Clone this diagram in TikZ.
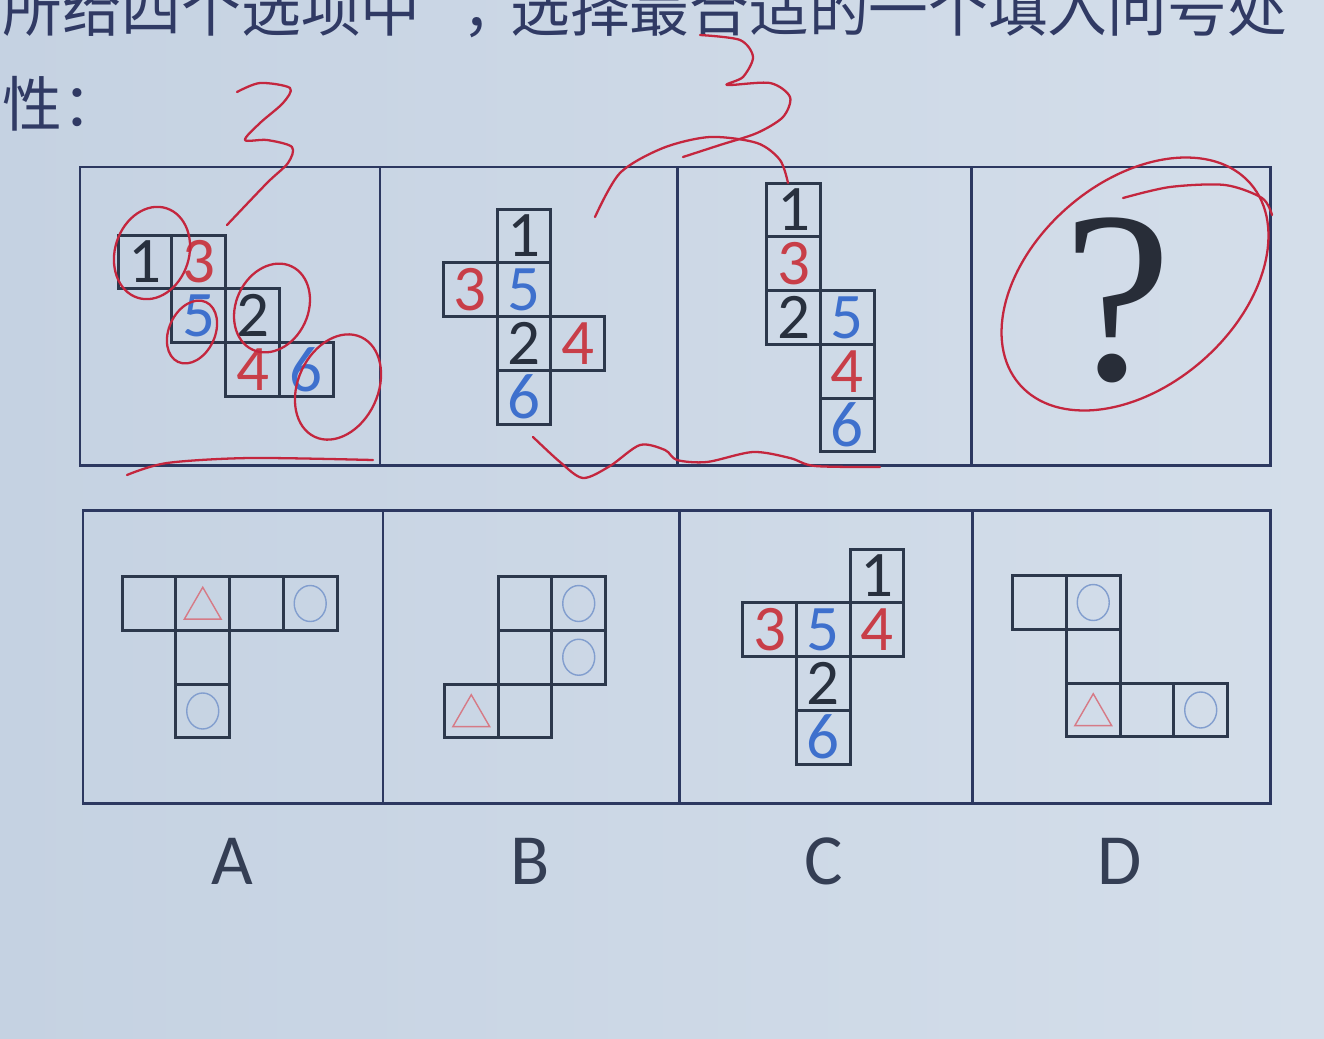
\documentclass[tikz,border=0pt]{standalone}
\usepackage{fontspec}
\usepackage{tikz}
\usetikzlibrary{positioning}
\usetikzlibrary{shapes.geometric}
\newfontfamily\cjkfont{Noto Sans CJK SC}
\newfontfamily\numfont{Carlito}
\newfontfamily\qfont{Liberation Serif}
\definecolor{bgl}{RGB}{197,210,226}
\definecolor{bgr}{RGB}{212,222,234}
\definecolor{framec}{RGB}{44,56,96}
\definecolor{boxc}{RGB}{44,56,76}
\definecolor{txtc}{RGB}{48,58,100}
\definecolor{numdk}{RGB}{40,48,62}
\definecolor{numrd}{RGB}{200,62,72}
\definecolor{numbl}{RGB}{62,112,205}
\definecolor{ringc}{RGB}{130,158,206}
\definecolor{tric}{RGB}{214,122,134}
\definecolor{inkc}{RGB}{196,38,62}
\definecolor{qc}{RGB}{40,45,56}
\definecolor{lblc}{RGB}{52,62,84}

\begin{document}
\begin{tikzpicture}[x=0.02cm,y=-0.02cm,node distance=0pt,
  head/.style={anchor=base west,inner sep=0pt,text=txtc,font=\cjkfont\fontsize{34}{34}\selectfont},
  sq/.style={draw=boxc,line width=1.7pt,minimum size=1.075cm,inner sep=0pt,outer sep=0pt,font=\numfont\fontsize{37}{37}\selectfont},
  dk/.style={sq,text=numdk},
  rd/.style={sq,text=numrd},
  bl/.style={sq,text=numbl},
  ring/.style={draw=ringc,line width=0.8pt,ellipse,minimum width=0.64cm,minimum height=0.72cm,inner sep=0pt},
  tri/.style={draw=tric,line width=0.8pt,regular polygon,regular polygon sides=3,minimum size=0.85cm,inner sep=0pt,yshift=-0.1cm},
  frame/.style={draw=framec,line width=1.7pt},
  lbl/.style={text=lblc,font=\numfont\fontsize{41}{41}\selectfont},
  ink/.style={draw=inkc,line width=1.3pt,line cap=round,line join=round}]
\useasboundingbox (0,0) rectangle (1324,1038);
\clip (0,0) rectangle (1324,1038);
\fill[left color=bgl,right color=bgr] (0,0) rectangle (1324,1038);

\node[head] (t1) at (2,31) {所给四个选项中};
\node[head] (t1c) at (462,31) {，};
\node[head] (t2) at (510,31) {选择最合适的一个填入问号处};
\node[head] (t3) at (2,126) {性：};

% frames
\draw[frame] (80,167) rectangle (1270,465);
\draw[frame] (380,167)--(380,465) (677,167)--(677,465) (971,167)--(971,465);
\draw[frame] (83,510) rectangle (1270,803);
\draw[frame] (383,510)--(383,803) (679,510)--(679,803) (972,510)--(972,803);

% top row
\node[dk] (p1) at (145,262) {1};
\node[rd,right=of p1] (p3) {3};
\node[bl,below=of p3] (p5) {5};
\node[dk,right=of p5] (p2) {2};
\node[rd,below=of p2] (p4) {4};
\node[bl,right=of p4] (p6) {6};

\node[dk] (q1) at (524,236) {1};
\node[bl,below=of q1] (q5) {5};
\node[rd,left=of q5] (q3) {3};
\node[dk,below=of q5] (q2) {2};
\node[rd,right=of q2] (q4) {4};
\node[bl,below=of q2] (q6) {6};

\node[dk] (r1) at (793.5,210) {1};
\node[rd,below=of r1] (r3) {3};
\node[dk,below=of r3] (r2) {2};
\node[bl,right=of r2] (r5) {5};
\node[rd,below=of r5] (r4) {4};
\node[bl,below=of r4] (r6) {6};

\node[text=qc,font=\qfont\fontsize{139}{139}\selectfont] (qm) at (1118,300) {?};

% options
\node[sq] (a1) at (149,603.5) {};
\node[sq,right=of a1] (a2) {};
\node[sq,right=of a2] (a3) {};
\node[sq,right=of a3] (a4) {};
\node[sq,below=of a2] (a5) {};
\node[sq,below=of a5] (a6) {};
\node[tri] (a2t) at (a2) {};
\node[ring] (a4o) at (a4) {};
\node[ring] (a6o) at (a6) {};

\node[sq] (b1) at (525,603.5) {};
\node[sq,right=of b1] (b2) {};
\node[sq,below=of b1] (b3) {};
\node[sq,right=of b3] (b4) {};
\node[sq,below=of b3] (b5) {};
\node[sq,left=of b5] (b6) {};
\node[ring] (b2o) at (b2) {};
\node[ring] (b4o) at (b4) {};
\node[tri] (b6t) at (b6) {};

\node[dk] (c1) at (877,576) {1};
\node[rd,below=of c1] (c4) {4};
\node[bl,left=of c4] (c5) {5};
\node[rd,left=of c5] (c3) {3};
\node[dk,below=of c5] (c2) {2};
\node[bl,below=of c2] (c6) {6};

\node[sq] (d1) at (1039.5,602.5) {};
\node[sq,right=of d1] (d2) {};
\node[sq,below=of d2] (d3) {};
\node[sq,below=of d3] (d4) {};
\node[sq,right=of d4] (d5) {};
\node[sq,right=of d5] (d6) {};
\node[ring] (d2o) at (d2) {};
\node[tri] (d4t) at (d4) {};
\node[ring] (d6o) at (d6) {};

\node[lbl] (la) at (232,861) {A};
\node[lbl] (lb) at (530,861) {B};
\node[lbl] (lc) at (824,861) {C};
\node[lbl] (ld) at (1120,861) {D};

% red marks
\draw[ink] plot[smooth] coordinates {(237,92) (260,83) (290,88) (283,103) (260,123) (245,140) (267,140) (292,147) (288,163) (267,183) (227,225)};
\draw[ink] plot[smooth] coordinates {(700,35) (740,40) (753,57) (743,77) (727,85) (770,83) (790,97) (783,117) (757,133) (720,145) (683,157)};
\draw[ink] plot[smooth] coordinates {(595,217) (620,173) (663,148) (710,137) (757,143) (780,160) (788,183)};
\draw[ink,rotate around={-18:(152,253)}] (152,253) ellipse [x radius=37,y radius=47];
\draw[ink,rotate around={-25:(192,332)}] (192,332) ellipse [x radius=23,y radius=33];
\draw[ink,rotate around={-25:(272,308)}] (272,308) ellipse [x radius=36,y radius=46];
\draw[ink,rotate around={-25:(338,387)}] (338,387) ellipse [x radius=40,y radius=55];
\draw[ink] plot[smooth] coordinates {(127,475) (167,463) (250,458) (373,460)};
\draw[ink] plot[smooth] coordinates {(533,437) (560,462) (583,478) (610,466) (640,445) (665,450) (677,460) (707,462) (753,452) (790,458) (815,466) (880,467)};
\draw[ink,rotate around={41:(1135,284)}] (1135,284) ellipse [x radius=153,y radius=102];
\draw[ink] plot[smooth] coordinates {(1123,198) (1170,187) (1225,185) (1262,198) (1272,215)};
\end{tikzpicture}
\end{document}
